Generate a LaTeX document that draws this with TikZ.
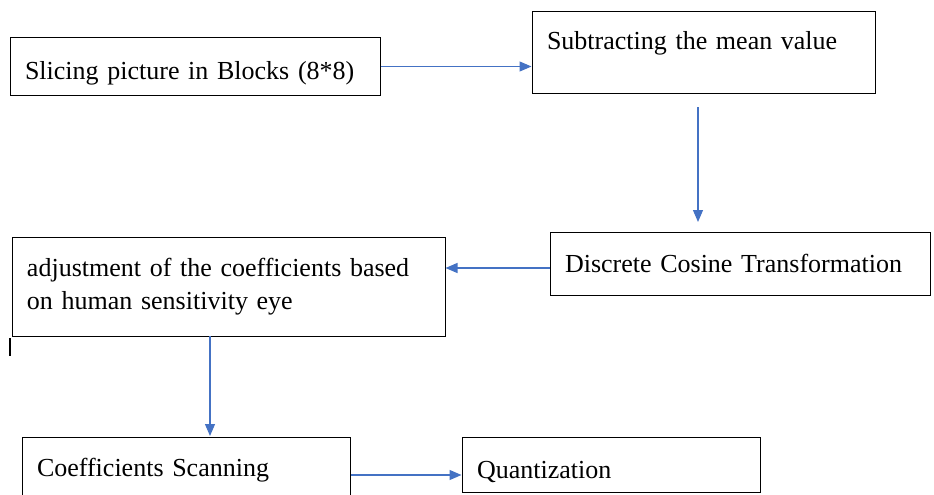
\documentclass[tikz,border=0pt]{standalone}
\usepackage{fontspec}
\setmainfont{Liberation Serif}
\usetikzlibrary{arrows.meta}
\begin{document}
\begin{tikzpicture}[x=1pt,y=-1pt,
  stagebox/.style={rectangle, draw, line width=1pt, inner xsep=15pt, align=left,
    font=\fontsize{26}{33}\selectfont},
  flow/.style={draw={rgb,255:red,68;green,114;blue,196}, line width=1.2pt,
    -{Triangle[length=12pt,width=10pt]}}]
\useasboundingbox (0,0) rectangle (934,495);

\node [stagebox, minimum width=370pt, minimum height=57pt, text width=340pt] (slice) at (195,66.5) {\raisebox{-7pt}[\height][\depth]{Slicing picture in Blocks (8*8)}};
\node [stagebox, minimum width=343pt, minimum height=81pt, text width=313pt] (mean) at (703.5,52.5) {\raisebox{9pt}[\height][\depth]{Subtracting the mean value}};
\node [stagebox, minimum width=380pt, minimum height=63pt, text width=350pt] (dct) at (740,263.5) {Discrete Cosine Transformation};
\node [stagebox, minimum width=433pt, minimum height=99pt, text width=403pt] (adjust) at (228.5,286.5) {adjustment of the coefficients based\\on human sensitivity eye};
\node [stagebox, minimum width=328pt, minimum height=66pt, text width=298pt] (scan) at (186,470) {Coefficients Scanning};
\node [stagebox, minimum width=298pt, minimum height=55pt, text width=268pt] (quant) at (611,464.5) {\raisebox{-7pt}[\height][\depth]{Quantization}};

\coordinate (m1) at (698,107);
\coordinate (m2) at (698,222);
\coordinate (a1) at (210,336);
\coordinate (a2) at (210,436);

\draw [flow] (slice.east) -- (slice.east -| mean.west);
\draw [flow] ([yshift=-4.5pt]dct.west) -- ([yshift=-4.5pt]dct.west -| adjust.east);
\draw [flow] (m1) -- (m2);
\draw [flow] (a1) -- (a2);
\draw [flow] ([yshift=-5pt]scan.east) -- ([yshift=-5pt]scan.east -| quant.west);

\draw [line width=2pt] (10,338) -- (10,356);
\end{tikzpicture}
\end{document}
